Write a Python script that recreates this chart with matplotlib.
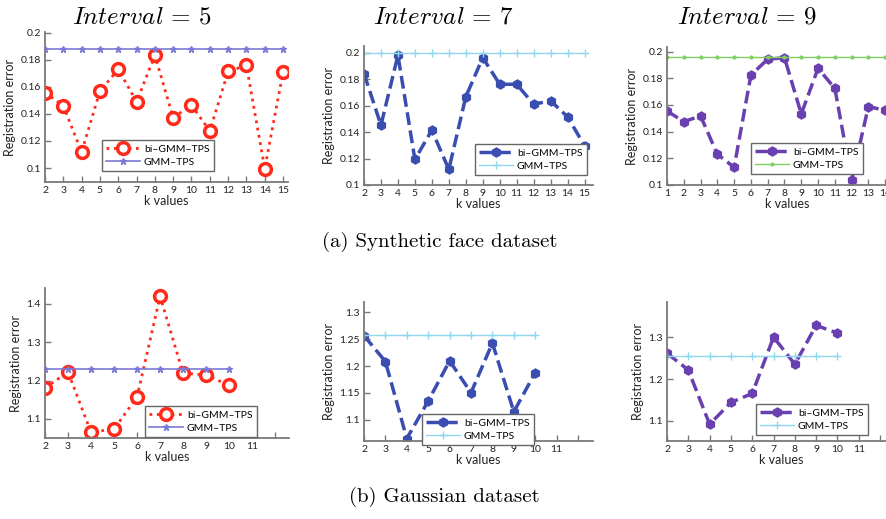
import numpy as np
import matplotlib
matplotlib.use("Agg")
import matplotlib.pyplot as plt

plt.rcParams["mathtext.fontset"] = "cm"
plt.rcParams["font.family"] = ["Lato", "DejaVu Sans"]

# ---- data ----
k_face5 = [2, 3, 4, 5, 6, 7, 8, 9, 10, 11, 12, 13, 14, 15]
bi_face5 = [0.1558, 0.146, 0.1118, 0.1568, 0.173, 0.149, 0.1832, 0.1372,
            0.1465, 0.1274, 0.1714, 0.1758, 0.0995, 0.171]
gmm_face5 = [0.1881] * 14

k_face7 = [2, 3, 4, 5, 6, 7, 8, 9, 10, 11, 12, 13, 14, 15]
bi_face7 = [0.1842, 0.1452, 0.198, 0.1193, 0.1414, 0.1118, 0.1666, 0.1962,
            0.1761, 0.1761, 0.161, 0.1636, 0.1515, 0.1297]
gmm_face7 = [0.1997] * 14

k_face9 = [1, 2, 3, 4, 5, 6, 7, 8, 9, 10, 11, 12, 13, 14]
bi_face9 = [0.1555, 0.1475, 0.1518, 0.123, 0.1133, 0.1825, 0.1943, 0.1955,
            0.1533, 0.1875, 0.1725, 0.1038, 0.1588, 0.156]
gmm_face9 = [0.1963] * 14

k_gauss = [2, 3, 4, 5, 6, 7, 8, 9, 10]
bi_gauss5 = [1.181, 1.2227, 1.0652, 1.0739, 1.1574, 1.420, 1.2192, 1.2148, 1.1879]
gmm_gauss5 = [1.2296] * 9
bi_gauss7 = [1.2564, 1.2084, 1.0651, 1.1349, 1.2096, 1.1505, 1.2427, 1.115, 1.1878]
gmm_gauss7 = [1.257] * 9
bi_gauss9 = [1.2622, 1.222, 1.092, 1.1442, 1.1658, 1.3008, 1.2357, 1.3289, 1.3104]
gmm_gauss9 = [1.2566] * 9

titles = [r"$Interval\,=\,5$", r"$Interval\,=\,7$", r"$Interval\,=\,9$"]
captions = ["(a) Synthetic face dataset", "(b) Gaussian dataset"]

W, H = 887, 519
fig = plt.figure(figsize=(W / 100, H / 100), dpi=100)


def make_ax(left, right, top, bottom):
    ax = fig.add_axes([left / W, 1 - bottom / H, (right - left) / W, (bottom - top) / H])
    for s in ["top", "right"]:
        ax.spines[s].set_visible(False)
    for s in ["left", "bottom"]:
        ax.spines[s].set_color("#7a7a7a")
        ax.spines[s].set_linewidth(1.3)
    ax.tick_params(direction="in", length=4, width=1, color="#7a7a7a",
                   labelsize=7.5, pad=3, labelcolor="#222222")
    ax.set_xlabel("k values", fontsize=9, labelpad=0, color="#222222")
    ax.set_ylabel("Registration error", fontsize=9, labelpad=3, color="#222222")
    return ax


def legend(ax, x, y):
    lg = ax.legend(loc="upper left", bbox_to_anchor=(x / W, 1 - y / H),
                   bbox_transform=fig.transFigure, fontsize=7.5, fancybox=False,
                   edgecolor="#666666", framealpha=1, handlelength=3.2,
                   borderpad=0.4, labelspacing=0.35, handletextpad=0.4)
    lg.get_frame().set_linewidth(1.0)


red = "#ff2a1a"
violet = "#7a7ad8"
dblue = "#3a4db0"
cyan = "#8fd8ee"
purple = "#6a40b0"
green = "#80d060"

# ---- top row: synthetic face ----
ax = make_ax(45, 288, 32, 182)
ax.plot(k_face5, bi_face5, ":", color=red, lw=2, marker="o", ms=8.5, mfc="white",
        mec=red, mew=2.5, label="bi–GMM–TPS")
ax.plot(k_face5, gmm_face5, "-", color=violet, lw=1.2, marker="*", ms=5, label="GMM–TPS")
ax.set_xlim(2, 15.27)
ax.set_ylim(0.0897, 0.2005)
ax.set_xticks(range(2, 16))
ax.set_yticks([0.1, 0.12, 0.14, 0.16, 0.18, 0.2])
ax.set_yticklabels(["0.1", "0.12", "0.14", "0.16", "0.18", "0.2"])
legend(ax, 97, 135)

ax = make_ax(364, 593, 46, 185)
ax.plot(k_face7, bi_face7, "--", color=dblue, lw=2.5, marker="h", ms=6.5,
        label="bi–GMM–TPS")
ax.plot(k_face7, gmm_face7, "-", color=cyan, lw=1, marker="+", ms=6, label="GMM–TPS")
ax.set_xlim(2, 15.5)
ax.set_ylim(0.1, 0.205)
ax.set_xticks(range(2, 16))
ax.set_yticks([0.1, 0.12, 0.14, 0.16, 0.18, 0.2])
ax.set_yticklabels(["0.1", "0.12", "0.14", "0.16", "0.18", "0.2"])
legend(ax, 470, 139)

ax = make_ax(667, 907, 47, 185)
ax.plot(k_face9, bi_face9, "--", color=purple, lw=2.5, marker="h", ms=6.5,
        label="bi–GMM–TPS")
ax.plot(k_face9, gmm_face9, "-", color=green, lw=1, marker=".", ms=4, label="GMM–TPS")
ax.set_xlim(1, 15.3)
ax.set_ylim(0.1, 0.2035)
ax.set_xticks(range(1, 16))
ax.set_yticks([0.1, 0.12, 0.14, 0.16, 0.18, 0.2])
ax.set_yticklabels(["0.1", "0.12", "0.14", "0.16", "0.18", "0.2"])
legend(ax, 746, 138)

# ---- bottom row: Gaussian ----
xt = list(range(2, 13))
xtl = [str(v) for v in range(2, 12)] + [""]

ax = make_ax(45, 289, 288, 438)
ax.plot(k_gauss, bi_gauss5, ":", color=red, lw=2, marker="o", ms=8.5, mfc="white",
        mec=red, mew=2.5, label="bi–GMM–TPS")
ax.plot(k_gauss, gmm_gauss5, "-", color=violet, lw=1.2, marker="*", ms=5, label="GMM–TPS")
ax.set_xlim(2, 12.6)
ax.set_ylim(1.0504, 1.4417)
ax.set_xticks(xt)
ax.set_xticklabels(xtl)
ax.set_yticks([1.1, 1.2, 1.3, 1.4])
ax.set_yticklabels(["1.1", "1.2", "1.3", "1.4"])
legend(ax, 140, 401)

ax = make_ax(364, 593, 302, 441)
ax.plot(k_gauss, bi_gauss7, "--", color=dblue, lw=2.5, marker="h", ms=6.5,
        label="bi–GMM–TPS")
ax.plot(k_gauss, gmm_gauss7, "-", color=cyan, lw=1, marker="+", ms=6, label="GMM–TPS")
ax.set_xlim(2, 12.7)
ax.set_ylim(1.0607, 1.319)
ax.set_xticks(xt)
ax.set_xticklabels(xtl)
ax.set_yticks([1.1, 1.15, 1.2, 1.25, 1.3])
ax.set_yticklabels(["1.1", "1.15", "1.2", "1.25", "1.3"])
legend(ax, 417, 409)

ax = make_ax(667, 895, 302, 441)
ax.plot(k_gauss, bi_gauss9, "--", color=purple, lw=2.5, marker="h", ms=6.5,
        label="bi–GMM–TPS")
ax.plot(k_gauss, gmm_gauss9, "-", color=cyan, lw=1, marker="+", ms=6, label="GMM–TPS")
ax.set_xlim(2, 12.7)
ax.set_ylim(1.0518, 1.385)
ax.set_xticks(xt)
ax.set_xticklabels(xtl)
ax.set_yticks([1.1, 1.2, 1.3])
ax.set_yticklabels(["1.1", "1.2", "1.3"])
legend(ax, 751, 399)

# ---- titles and captions ----
for x, t in zip([142, 443, 747], titles):
    fig.text(x / W, 1 - 16 / H, t, ha="center", va="center", fontsize=18)
fig.text(440 / W, 1 - 242 / H, captions[0], ha="center", va="center",
         fontsize=15, family="cmr10")
fig.text(444 / W, 1 - 497 / H, captions[1], ha="center", va="center",
         fontsize=15, family="cmr10")

fig.savefig("out.png", dpi=100)
